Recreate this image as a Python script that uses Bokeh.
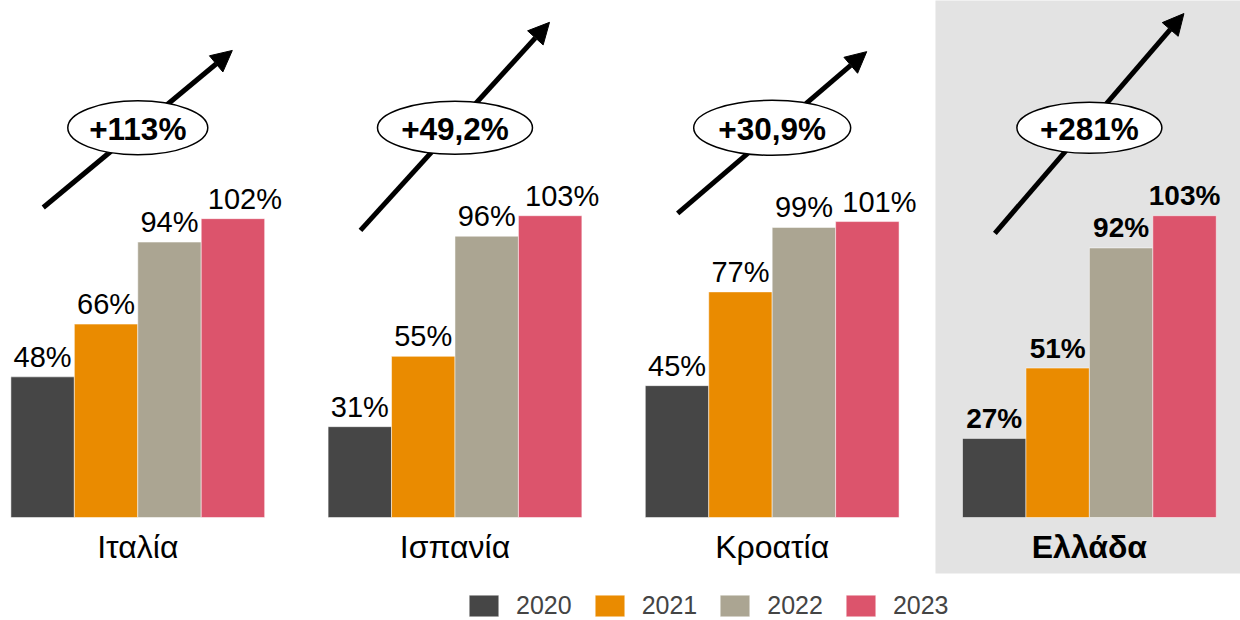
from bokeh.plotting import figure
from bokeh.models import Range1d, ColumnDataSource, Arrow, NormalHead, Legend, LegendItem
from bokeh.core.properties import value
from bokeh.embed import file_html
from bokeh.resources import INLINE

# ---------------- data ----------------
countries = ["Ιταλία", "Ισπανία", "Κροατία", "Ελλάδα"]
years = ["2020", "2021", "2022", "2023"]
v2020 = [48, 31, 45, 27]
v2021 = [66, 55, 77, 51]
v2022 = [94, 96, 99, 92]
v2023 = [102, 103, 101, 103]
growth_labels = ["+113%", "+49,2%", "+30,9%", "+281%"]
highlight = "Ελλάδα"

# ---------------- style ----------------
colors = ["#464646", "#EA8B00", "#ABA592", "#DC546C"]
FONT = "Liberation Sans"
bar_w = 0.2
offsets = [-0.3, -0.1, 0.1, 0.3]
arrow_y_start = [105.8, 98.0, 103.8, 97.0]
arrow_y_end = [159.4, 169.0, 159.0, 172.0]
arrow_dx = 0.298
ellipse_y = 133
ellipse_w = [140, 155, 157, 145]
ellipse_h = [54, 53, 55, 51]

series = [v2020, v2021, v2022, v2023]
gx = list(range(len(countries)))
hi = countries.index(highlight)

p = figure(width=1240, height=620,
           x_range=Range1d(-0.4328, 3.4764), y_range=Range1d(-35.15, 176.45),
           output_backend="svg", toolbar_location=None, min_border=0)
p.xaxis.visible = False
p.yaxis.visible = False
p.xgrid.visible = False
p.ygrid.visible = False
p.outline_line_color = None
p.background_fill_color = "white"
p.border_fill_color = "white"

# highlight panel behind Greece
p.quad(left=[hi - 0.4852], right=[hi + 1.0], bottom=[-19.1], top=[200],
       fill_color="#E3E3E3", line_color=None, level="image")

# arrows
asrc = ColumnDataSource(dict(
    x0=[g - arrow_dx for g in gx], x1=[g + arrow_dx for g in gx],
    y0=arrow_y_start, y1=arrow_y_end))
arrow = Arrow(end=NormalHead(size=21, fill_color="black", line_color="black", line_width=1),
              x_start="x0", y_start="y0", x_end="x1", y_end="y1",
              line_width=5, line_color="black", source=asrc, level="underlay")
p.add_layout(arrow)

# bars
renderers = []
for j, (yr, vals) in enumerate(zip(years, series)):
    src = ColumnDataSource(dict(x=[g + offsets[j] for g in gx], top=vals))
    r = p.vbar(x="x", top="top", bottom=0, width=bar_w, source=src,
               fill_color=colors[j], line_color="white", line_alpha=0.5, line_width=1)
    renderers.append(r)

# value labels
lx, ly, lt, ls, lsz, lxo = [], [], [], [], [], []
for j, vals in enumerate(series):
    for g, v in zip(gx, vals):
        lx.append(g + offsets[j]); ly.append(v); lt.append(f"{v}%")
        ls.append("bold" if g == hi else "normal")
        lsz.append("28px" if g == hi else "29px")
        lxo.append(12 if (j == 3 and g != hi) else 0)
p.text(x="x", y="y", text="t",
       source=ColumnDataSource(dict(x=lx, y=ly, t=lt, s=ls, sz=lsz, xo=lxo)),
       text_font=value(FONT), text_font_style="s", text_font_size="sz",
       text_align="center", text_baseline="alphabetic", x_offset="xo", y_offset=-20,
       text_color="black")

# category labels
p.text(x="x", y="y", text="t",
       source=ColumnDataSource(dict(x=gx, y=[0] * len(gx), t=countries,
                                    s=["bold" if g == hi else "normal" for g in gx])),
       text_font=value(FONT), text_font_style="s", text_font_size="32px",
       text_align="center", text_baseline="alphabetic", y_offset=29, text_color="black")

# growth ellipses
p.ellipse(x=gx, y=[ellipse_y] * len(gx), width=ellipse_w, height=ellipse_h,
          width_units="screen", height_units="screen",
          fill_color="white", line_color="black", line_width=1.5)
p.text(x=gx, y=[ellipse_y] * len(gx), text=growth_labels,
       text_font=value(FONT), text_font_style="bold", text_font_size="31.5px",
       text_align="center", text_baseline="alphabetic", y_offset=1, text_color="black")

# legend
legend = Legend(items=[LegendItem(label=yr, renderers=[r]) for yr, r in zip(years, renderers)],
                orientation="horizontal", location=(465, 0),
                glyph_width=37, glyph_height=27, label_standoff=14, spacing=19,
                padding=0, margin=0, label_text_font=FONT, label_text_font_size="25px",
                label_height=27, background_fill_alpha=0, border_line_alpha=0)
p.add_layout(legend, "center")

open("out.html", "w").write(file_html(p, INLINE))
